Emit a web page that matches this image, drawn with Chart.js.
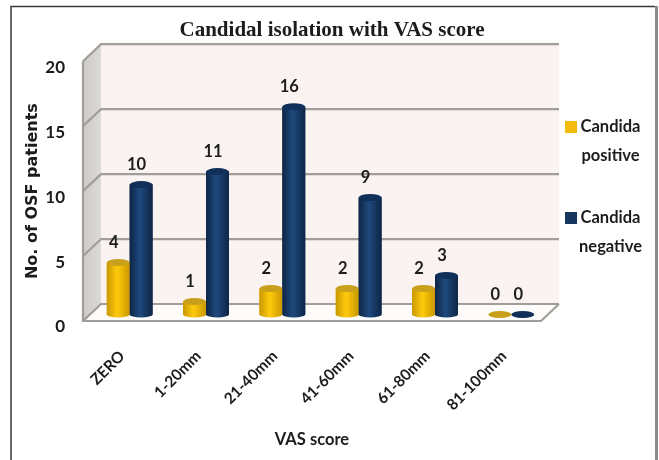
<!DOCTYPE html>
<html>
<head>
<meta charset="utf-8">
<style>
  html, body { margin: 0; padding: 0; background: #fff; }
  canvas { display: block; filter: blur(0.4px); }
</style>
<script src="https://cdn.jsdelivr.net/npm/chart.js@4"></script>
</head>
<body>
<canvas id="chart" width="659" height="460"></canvas>
<script>
const categories = ["ZERO", "1-20mm", "21-40mm", "41-60mm", "61-80mm", "81-100mm"];
const candidaPositive = [4, 1, 2, 2, 2, 0];
const candidaNegative = [10, 11, 16, 9, 3, 0];
const seriesNames = ["Candida positive", "Candida negative"];
const yMax = 20;
const yStep = 5;

const labelFont = "Lato, sans-serif";
const inkColor = "#1c1c1c";
const yellow = "#f4bb0c";
const navy = "#17375e";

// depth of the fake 3D box, and how far back the bars stand on its floor
const depthX = 18;
const depthY = 17;
const barShiftX = 8.5;
const barShiftY = 6.5;

const padLeft = 14;
const padRight = 9;
const plotLeft = 83;
const plotRight = 541;
const plotBottom = 321;

function polygon(ctx, points, fill) {
    ctx.beginPath();
    points.forEach(([x, y], i) => (i ? ctx.lineTo(x, y) : ctx.moveTo(x, y)));
    ctx.closePath();
    ctx.fillStyle = fill;
    ctx.fill();
}

const framePlugin = {
    id: "frame",
    beforeDraw(chart) {
        const ctx = chart.ctx;
        ctx.save();
        ctx.fillStyle = "#fff";
        ctx.fillRect(0, 0, chart.width, chart.height);
        ctx.strokeStyle = "#3a3a3a";
        ctx.lineWidth = 1.5;
        ctx.beginPath();
        ctx.moveTo(11, 460);
        ctx.lineTo(11, 6.5);
        ctx.lineTo(655, 6.5);
        ctx.stroke();
        ctx.strokeStyle = "#8a8a8a";
        ctx.lineWidth = 3;
        ctx.beginPath();
        ctx.moveTo(656.5, 6);
        ctx.lineTo(656.5, 460);
        ctx.stroke();
        ctx.restore();
    },
};

const boxPlugin = {
    id: "box3d",
    // bars stand in the middle of the floor, not on the front edge
    afterDatasetsUpdate(chart) {
        chart.data.datasets.forEach((ds, i) => {
            chart.getDatasetMeta(i).data.forEach((bar) => {
                bar.x += barShiftX;
                bar.y -= barShiftY;
                bar.base -= barShiftY;
            });
        });
    },
    beforeDatasetsDraw(chart) {
        const ctx = chart.ctx;
        const { left, right } = chart.chartArea;
        const y = chart.scales.y;
        const top = y.getPixelForValue(yMax);
        const bottom = y.getPixelForValue(0);
        const backL = left + depthX;
        const backR = right + depthX;

        ctx.save();
        polygon(ctx, [[backL, top - depthY], [backR, top - depthY], [backR, bottom - depthY], [backL, bottom - depthY]], "#faf3f1");

        const side = ctx.createLinearGradient(left, 0, backL, 0);
        side.addColorStop(0, "#cdcbc9");
        side.addColorStop(1, "#dcdad8");
        polygon(ctx, [[left, bottom], [left, top], [backL, top - depthY], [backL, bottom - depthY]], side);
        polygon(ctx, [[left, bottom], [right, bottom], [backR, bottom - depthY], [backL, bottom - depthY]], "#fdfcfb");

        ctx.strokeStyle = "#a19d99";
        ctx.lineWidth = 2.2;
        y.ticks.forEach((tick) => {
            const py = y.getPixelForValue(tick.value);
            ctx.beginPath();
            ctx.moveTo(left, py);
            ctx.lineTo(backL, py - depthY);
            ctx.lineTo(backR, py - depthY);
            ctx.stroke();
        });
        ctx.beginPath();
        ctx.moveTo(left, top);
        ctx.lineTo(left, bottom);
        ctx.lineTo(right, bottom);
        ctx.lineTo(backR, bottom - depthY);
        ctx.stroke();
        ctx.restore();
    },
    afterDatasetsDraw(chart) {
        const ctx = chart.ctx;
        const shades = [
            { edge: "#c99800", mid: "#ffca0c", cap: "#c9a01c" },
            { edge: "#0d2545", mid: "#1f4a7e", cap: "#10305a" },
        ];
        ctx.save();
        // paint column by column so each navy bar sits over its yellow one
        categories.forEach((_, index) => {
            chart.data.datasets.forEach((ds, i) => {
                const bar = chart.getDatasetMeta(i).data[index];
                const shade = shades[i];
                const half = bar.width / 2;
                const g = ctx.createLinearGradient(bar.x - half, 0, bar.x + half, 0);
                g.addColorStop(0, shade.edge);
                g.addColorStop(0.45, shade.mid);
                g.addColorStop(1, shade.edge);
                ctx.fillStyle = g;
                ctx.beginPath();
                ctx.moveTo(bar.x - half, bar.y);
                ctx.lineTo(bar.x - half, bar.base);
                ctx.ellipse(bar.x, bar.base, half, 3, 0, Math.PI, 0, true);
                ctx.lineTo(bar.x + half, bar.y);
                ctx.closePath();
                ctx.fill();
                ctx.fillStyle = shade.cap;
                ctx.beginPath();
                ctx.ellipse(bar.x, bar.y, half, 3.5, 0, 0, Math.PI * 2);
                ctx.fill();
            });
        });

        ctx.font = "bold 16.5px " + labelFont;
        ctx.fillStyle = inkColor;
        ctx.textAlign = "center";
        ctx.textBaseline = "middle";
        chart.data.datasets.forEach((ds, i) => {
            chart.getDatasetMeta(i).data.forEach((bar, index) => {
                ctx.fillText(String(ds.data[index]), bar.x - 4.5, bar.y - 19.5);
            });
        });
        ctx.restore();
    },
    afterDraw(chart) {
        // two-line legend in the right gutter
        const ctx = chart.ctx;
        const rows = [
            { swatch: yellow, y: 127 },
            { swatch: navy, y: 218 },
        ];
        ctx.save();
        ctx.font = "bold 16.5px " + labelFont;
        ctx.textAlign = "center";
        ctx.textBaseline = "middle";
        rows.forEach((row, i) => {
            ctx.fillStyle = row.swatch;
            ctx.fillRect(565, row.y - 6, 12, 12);
            ctx.fillStyle = inkColor;
            seriesNames[i].split(" ").forEach((word, n) => {
                ctx.fillText(word, 610.5, row.y + n * 28.5);
            });
        });
        ctx.restore();
    },
};

new Chart(document.getElementById("chart"), {
    type: "bar",
    data: {
        labels: categories,
        datasets: [
            { label: seriesNames[0], data: candidaPositive, backgroundColor: yellow },
            { label: seriesNames[1], data: candidaNegative, backgroundColor: navy },
        ],
    },
    options: {
        responsive: false,
        animation: false,
        layout: { padding: { left: padLeft, right: padRight, top: 0, bottom: 0 } },
        datasets: { bar: { categoryPercentage: 0.6, barPercentage: 1 } },
        plugins: {
            legend: { display: false },
            tooltip: { enabled: false },
            title: {
                display: true,
                text: "Candidal isolation with VAS score",
                color: inkColor,
                font: { family: "'Liberation Serif', serif", size: 21, weight: "bold" },
                padding: { top: 18, bottom: 18 },
            },
        },
        scales: {
            x: {
                grid: { display: false },
                border: { display: false },
                ticks: {
                    color: inkColor,
                    font: { family: labelFont, size: 15.5, weight: "bold" },
                    minRotation: 45,
                    maxRotation: 45,
                    padding: 18,
                    labelOffset: 1,
                    autoSkip: false,
                },
                title: {
                    display: true,
                    text: "VAS score",
                    color: inkColor,
                    font: { family: labelFont, size: 16.5, weight: "bold" },
                    padding: { top: 0, bottom: 10 },
                },
                afterFit(scale) { scale.height = 460 - plotBottom; },
            },
            y: {
                min: 0,
                max: yMax,
                grid: { display: false },
                border: { display: false },
                ticks: {
                    stepSize: yStep,
                    color: inkColor,
                    padding: 10,
                    labelOffset: 6,
                    font: { family: labelFont, size: 17, weight: "bold" },
                },
                title: {
                    display: true,
                    text: "No. of OSF patients",
                    color: inkColor,
                    font: { family: "'DejaVu Sans', sans-serif", size: 16, weight: "bold" },
                    padding: { top: 9, bottom: 0 },
                },
                afterFit(scale) { scale.width = plotLeft - padLeft; },
            },
            // empty axis that only reserves the legend gutter on the right
            legendGutter: {
                position: "right",
                grid: { display: false },
                border: { display: false },
                ticks: { display: false },
                afterFit(scale) { scale.width = 659 - padRight - plotRight; },
            },
        },
    },
    plugins: [framePlugin, boxPlugin],
});
</script>
</body>
</html>
